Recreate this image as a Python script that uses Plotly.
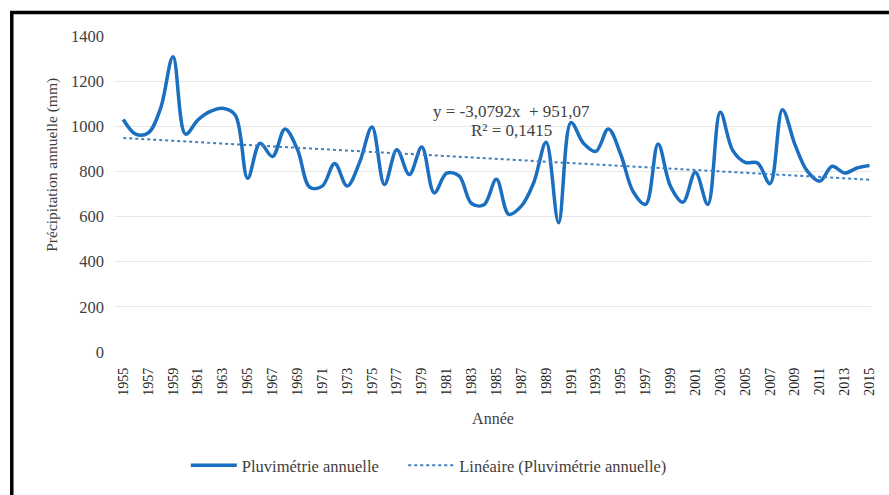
import plotly.graph_objects as go

years = list(range(1955, 2016))
precip = [1030, 965, 970, 1080, 1308, 965, 1028, 1066, 1080, 1050,
          770, 925, 866, 988, 898, 730, 735, 835, 735, 840,
          997, 742, 896, 786, 908, 705, 792, 780, 658, 652,
          765, 610, 646, 750, 929, 573, 1017, 925, 889, 988,
          875, 710, 654, 922, 734, 664, 796, 654, 1062, 893,
          840, 837, 746, 1073, 920, 801, 757, 823, 793, 815, 826]
trend_slope = -3.0792
trend_intercept = 951.07
y_ticks = [0, 200, 400, 600, 800, 1000, 1200, 1400]
x_ticks = list(range(1955, 2016, 2))

idx = list(range(1, len(years) + 1))
trend = [trend_slope * i + trend_intercept for i in idx]

serif = "Liberation Serif, Times New Roman, serif"

fig = go.Figure()
fig.add_trace(go.Scatter(
    x=years, y=precip, mode="lines", name="Pluvimétrie annuelle", legend="legend",
    line=dict(color="#1a6fc0", width=3.5, shape="spline", smoothing=1.0),
))
fig.add_trace(go.Scatter(
    x=years, y=trend, mode="lines", name="Linéaire (Pluvimétrie annuelle)", legend="legend2",
    line=dict(color="#3f7fbf", width=2, dash="dot"),
))

L, R, T, B = 115, 16, 36, 142
W, H = 889, 495
pw, ph = W - L - R, H - T - B

def px_x(p):
    return (p - L) / pw

def px_y(p):
    return (H - B - p) / ph

legend_style = dict(
    orientation="h", xanchor="left", y=px_y(467), yanchor="middle",
    font=dict(size=16.5, color="#404040", family=serif),
    itemwidth=46, tracegroupgap=0, bgcolor="rgba(0,0,0,0)",
)

fig.update_layout(
    width=W, height=H,
    margin=dict(l=L, r=R, t=T, b=B),
    paper_bgcolor="white", plot_bgcolor="white",
    font=dict(family=serif, color="#404040", size=13),
    xaxis=dict(
        range=[1955 - (123.3 - L) / 12.47, 2015 + (W - R - 871.5) / 12.47],
        tickvals=x_ticks, ticktext=[str(v) for v in x_ticks],
        tickangle=-90, tickfont=dict(size=14, color="#1a1a1a", family=serif),
        showgrid=False, zeroline=False, showline=False, ticks="", ticklabelstandoff=12,
        title=dict(text="Année", font=dict(size=16, color="#404040"), standoff=18),
    ),
    yaxis=dict(
        range=[0, 1400], tickvals=y_ticks,
        tickfont=dict(size=16.5, color="#404040", family=serif),
        showgrid=True, gridcolor="#e6e6e6", gridwidth=1,
        zeroline=False, showline=False, ticks="", ticklabelstandoff=10,
    ),
    legend=dict(x=px_x(186), **legend_style),
    legend2=dict(x=px_x(404), **legend_style),
    showlegend=True,
)

fig.add_annotation(
    xref="paper", yref="paper", x=px_x(51), y=px_y(165),
    text="Précipitation annuelle (mm)", showarrow=False, textangle=-90,
    xanchor="center", yanchor="middle",
    font=dict(size=15.5, color="#404040", family=serif),
)
fig.add_annotation(
    xref="paper", yref="paper", x=px_x(513), y=px_y(100),
    text="y = -3,0792x  + 951,07", showarrow=False,
    font=dict(size=17, color="#404040", family=serif),
)
fig.add_annotation(
    xref="paper", yref="paper", x=px_x(513), y=px_y(119),
    text="R² = 0,1415", showarrow=False,
    font=dict(size=17, color="#404040", family=serif),
)

fig.add_shape(
    type="rect", xref="paper", yref="paper",
    x0=px_x(11.5), x1=px_x(W + 20), y0=px_y(12.5), y1=px_y(H + 20),
    line=dict(color="black", width=3.5), fillcolor="rgba(0,0,0,0)", layer="above",
)

fig.write_html(
    "out.html",
    config={"displayModeBar": False},
    post_script="document.body.style.margin='0';document.body.style.overflow='hidden';",
)
